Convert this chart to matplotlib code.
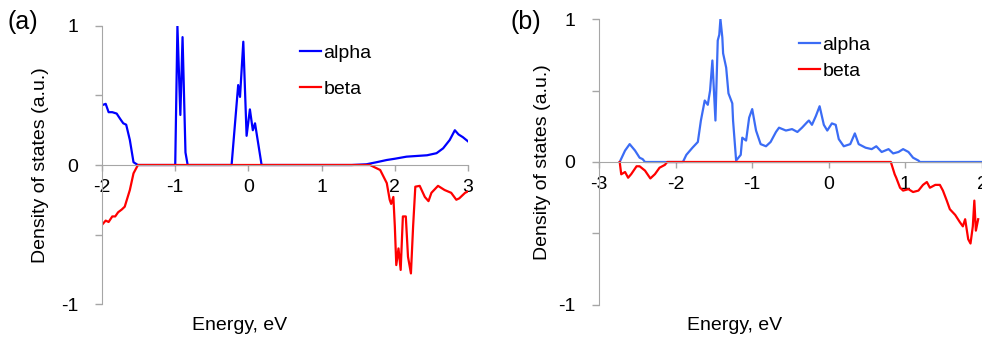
import numpy as np
import matplotlib
matplotlib.use("Agg")
import matplotlib.pyplot as plt

plt.rcParams['font.family'] = ['Liberation Sans', 'DejaVu Sans']

# panel (a) data
a_alpha_x = [-2.0, -1.95, -1.91, -1.86, -1.80, -1.75, -1.71, -1.67, -1.62, -1.57, -1.51,
             -1.0, -0.97, -0.93, -0.90, -0.86, -0.83,
             -0.23, -0.14, -0.115, -0.07, -0.025, 0.02, 0.06, 0.09, 0.18,
             1.41, 1.61, 1.75, 1.89, 2.0, 2.16, 2.30, 2.44, 2.57, 2.66, 2.75, 2.82, 2.87, 2.93, 3.0]
a_alpha_y = [0.43, 0.44, 0.38, 0.38, 0.37, 0.33, 0.30, 0.29, 0.18, 0.02, 0.0,
             0.0, 1.0, 0.36, 0.92, 0.09, 0.0,
             0.0, 0.575, 0.49, 0.887, 0.21, 0.40, 0.25, 0.30, 0.0,
             0.0, 0.005, 0.02, 0.036, 0.045, 0.06, 0.065, 0.07, 0.085, 0.12, 0.18, 0.25, 0.22, 0.20, 0.17]
a_beta_x = [-2.0, -1.95, -1.91, -1.86, -1.82, -1.78, -1.73, -1.69, -1.62, -1.57, -1.51,
            1.66, 1.80, 1.89, 1.93, 1.95, 1.98, 2.0, 2.02, 2.05, 2.08, 2.11, 2.15, 2.18, 2.22,
            2.25, 2.28, 2.34, 2.41, 2.46, 2.50, 2.59, 2.68, 2.77, 2.84, 2.88, 2.96, 3.0]
a_beta_y = [-0.43, -0.40, -0.41, -0.37, -0.37, -0.34, -0.32, -0.30, -0.18, -0.06, 0.0,
            0.0, -0.036, -0.13, -0.25, -0.28, -0.23, -0.44, -0.72, -0.60, -0.755, -0.37, -0.37, -0.66, -0.78,
            -0.44, -0.156, -0.15, -0.23, -0.26, -0.20, -0.15, -0.18, -0.20, -0.25, -0.24, -0.20, -0.19]

# panel (b) data
b_alpha_x = [-2.73, -2.66, -2.60, -2.53, -2.47, -2.43, -2.40, -1.905, -1.86, -1.78, -1.71, -1.67,
             -1.62, -1.58, -1.55, -1.52, -1.48, -1.45, -1.43, -1.415, -1.39, -1.38, -1.34, -1.31,
             -1.26, -1.25, -1.21, -1.15, -1.13, -1.08, -1.04, -1.00, -0.95, -0.89, -0.82, -0.76,
             -0.69, -0.65, -0.56, -0.48, -0.41, -0.35, -0.28, -0.26, -0.22, -0.17, -0.12, -0.065,
             -0.02, 0.04, 0.09, 0.13, 0.195, 0.28, 0.34, 0.39, 0.48, 0.56, 0.62, 0.69, 0.78, 0.84,
             0.91, 0.97, 1.04, 1.10, 1.17, 1.19, 2.0]
b_alpha_y = [0.0, 0.08, 0.125, 0.08, 0.03, 0.02, 0.0, 0.0, 0.05, 0.10, 0.14, 0.29,
             0.43, 0.40, 0.50, 0.71, 0.29, 0.85, 0.89, 1.0, 0.87, 0.76, 0.66, 0.48,
             0.41, 0.29, 0.01, 0.05, 0.17, 0.15, 0.31, 0.37, 0.22, 0.125, 0.11, 0.14,
             0.21, 0.24, 0.22, 0.23, 0.21, 0.24, 0.28, 0.29, 0.26, 0.32, 0.39, 0.26,
             0.22, 0.27, 0.26, 0.16, 0.11, 0.125, 0.20, 0.125, 0.10, 0.09, 0.11, 0.07, 0.09, 0.06,
             0.07, 0.09, 0.07, 0.03, 0.01, 0.0, 0.0]
b_beta_x = [-2.73, -2.71, -2.66, -2.62, -2.58, -2.51, -2.47, -2.40, -2.33, -2.27, -2.21, -2.14, -2.11,
            0.81, 0.86, 0.88, 0.93, 0.97, 1.04, 1.10, 1.17, 1.23, 1.28, 1.32, 1.39, 1.45, 1.49,
            1.54, 1.58, 1.65, 1.71, 1.75, 1.78, 1.82, 1.85, 1.88, 1.90, 1.92, 1.95]
b_beta_y = [0.0, -0.086, -0.07, -0.11, -0.085, -0.03, -0.03, -0.06, -0.115, -0.085, -0.04, -0.02, 0.0,
            0.0, -0.086, -0.11, -0.18, -0.20, -0.19, -0.21, -0.20, -0.16, -0.14, -0.18, -0.16, -0.16, -0.20,
            -0.27, -0.33, -0.37, -0.42, -0.45, -0.40, -0.54, -0.57, -0.45, -0.27, -0.48, -0.40]

gray = '#a6a6a6'
fs = 14

fig = plt.figure(figsize=(9.82, 3.43), dpi=100)
ax1 = fig.add_axes([0.1039, 0.1137, 0.3727, 0.8105])
ax2 = fig.add_axes([0.61, 0.1108, 0.39, 0.8338])


def style(ax, xlim, xticks):
    ax.set_xlim(*xlim)
    ax.set_ylim(-1, 1)
    for s in ['top', 'right']:
        ax.spines[s].set_visible(False)
    ax.spines['bottom'].set_position(('data', 0))
    ax.spines['left'].set_color(gray)
    ax.spines['bottom'].set_color(gray)
    ax.set_xticks(xticks)
    ax.set_xticklabels(['%d' % t for t in xticks])
    ax.set_yticks([-1, 0, 1])
    ax.set_yticklabels(['-1', '0', '1'])
    ax.set_yticks([-0.5, 0.5], minor=True)
    ax.tick_params(axis='both', which='both', direction='out', color=gray,
                   labelsize=fs, width=1)
    ax.tick_params(axis='x', length=4, pad=6)
    ax.tick_params(axis='y', which='both', length=5, pad=12)
    ax.set_ylabel('Density of states (a.u.)', fontsize=fs)
    ax.patch.set_alpha(0)


style(ax1, (-2, 3), [-2, -1, 0, 1, 2, 3])
style(ax2, (-3, 2), [-3, -2, -1, 0, 1, 2])

ax1.plot(a_alpha_x, a_alpha_y, color='#0000ff', lw=1.6, label='alpha')
ax1.plot(a_beta_x, a_beta_y, color='#ff0000', lw=1.6, label='beta')
ax2.plot(b_alpha_x, b_alpha_y, color='#3b6cf5', lw=1.6, label='alpha')
ax2.plot(b_beta_x, b_beta_y, color='#ff0000', lw=1.6, label='beta')

ax1.yaxis.set_label_coords(-0.145, 0.5)
ax2.yaxis.set_label_coords(-0.125, 0.5)

ax1.legend(loc='upper left', bbox_to_anchor=(0.541, 0.935), frameon=False, fontsize=fs,
           handlelength=1.1, handletextpad=0.1, labelspacing=0.95, borderpad=0, borderaxespad=0)
ax2.legend(loc='upper left', bbox_to_anchor=(0.522, 0.94), frameon=False, fontsize=fs,
           handlelength=1.1, handletextpad=0.1, labelspacing=0.45, borderpad=0, borderaxespad=0)

fig.text(0.244, 0.052, 'Energy, eV', fontsize=fs, ha='center', va='center')
fig.text(0.748, 0.052, 'Energy, eV', fontsize=fs, ha='center', va='center')
fig.text(0.008, 0.935, '(a)', fontsize=18, ha='left', va='center')
fig.text(0.52, 0.935, '(b)', fontsize=18, ha='left', va='center')

fig.savefig('out.png', dpi=100)
